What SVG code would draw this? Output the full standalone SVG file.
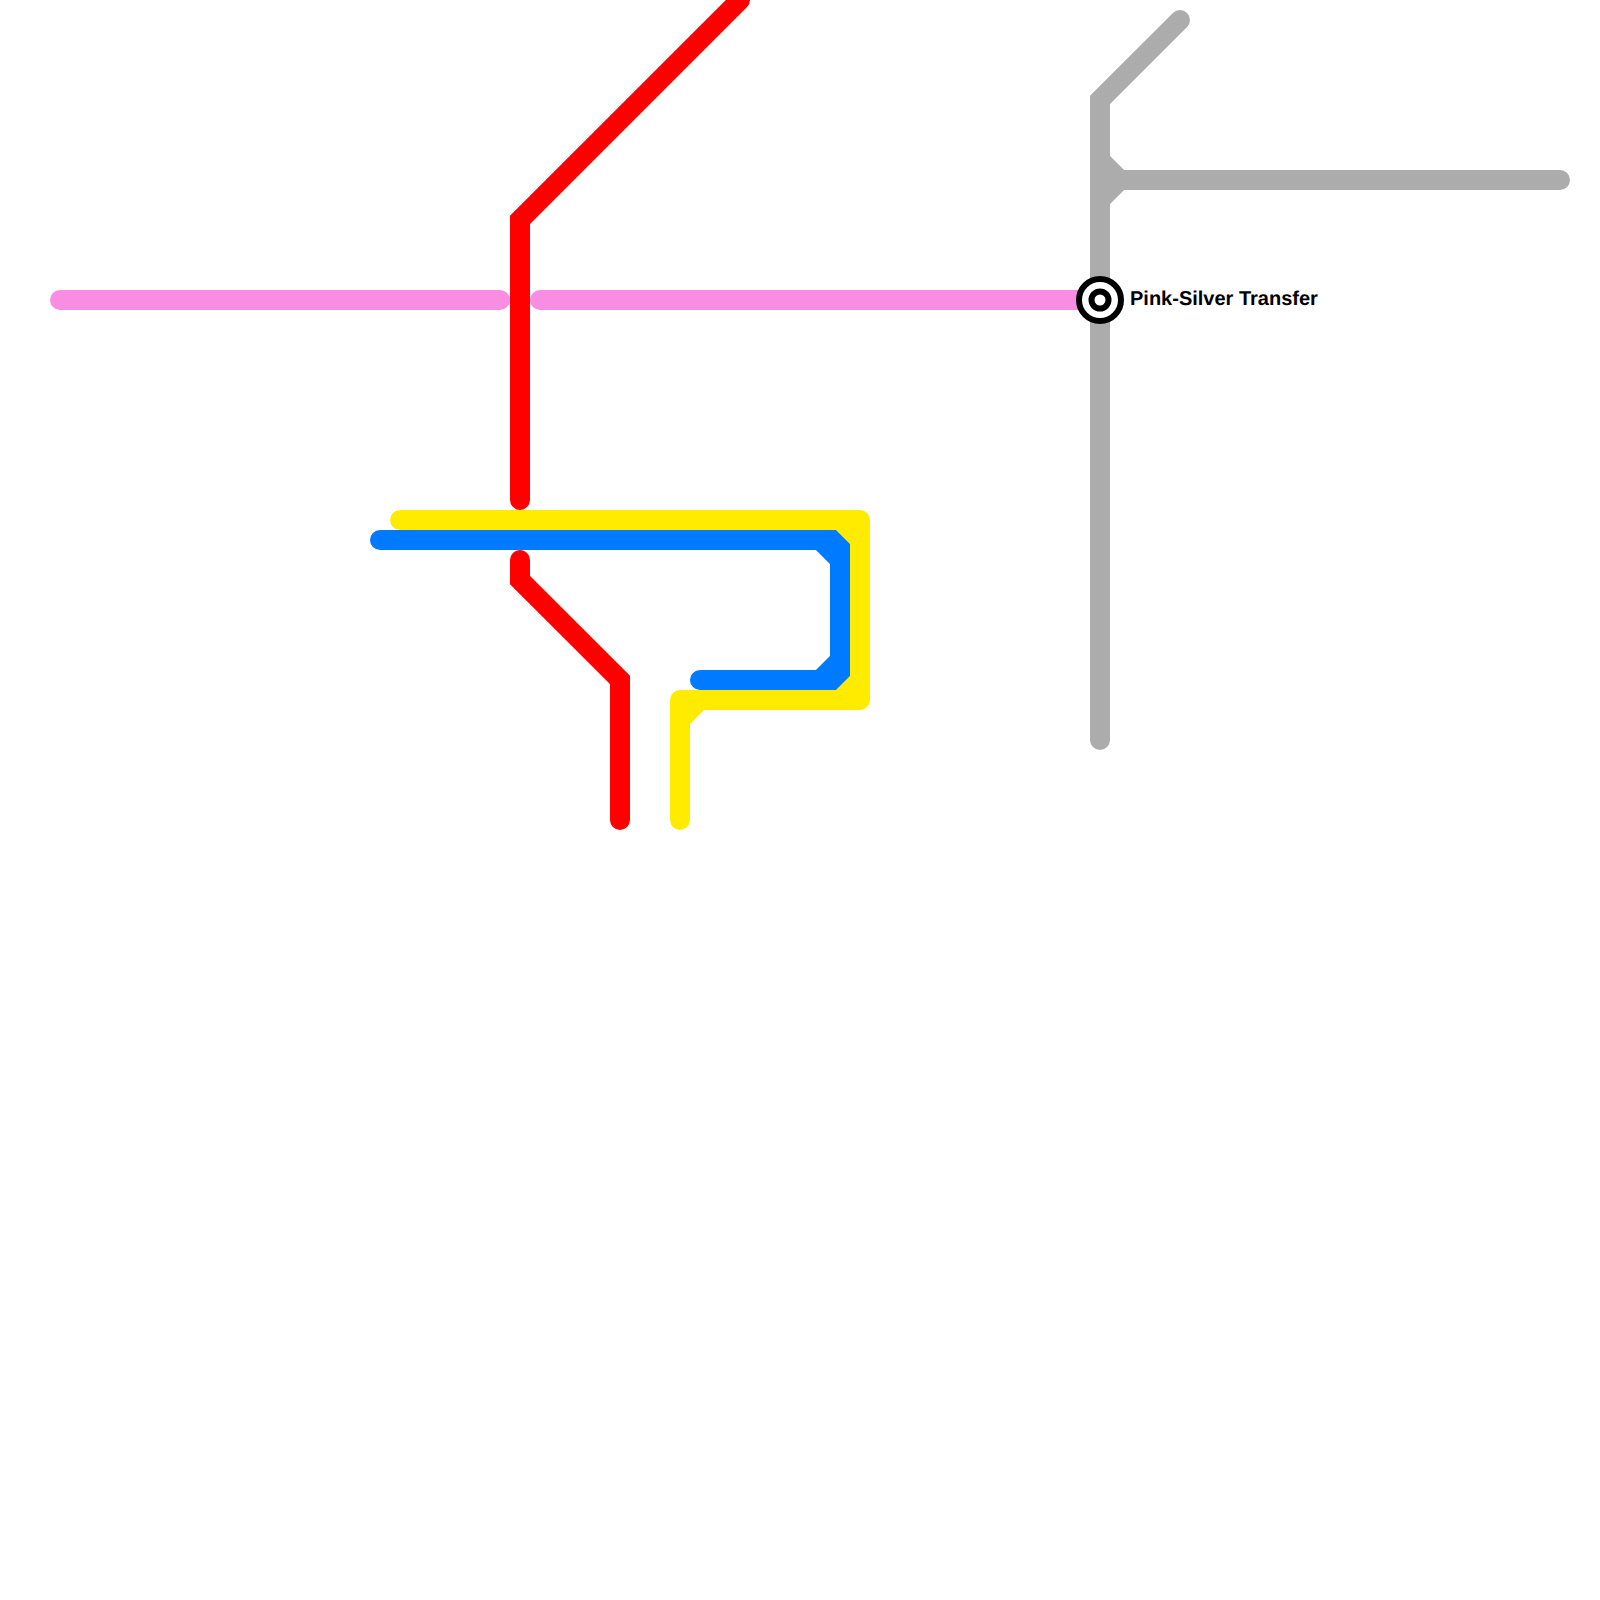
<svg xmlns="http://www.w3.org/2000/svg" width="1600" height="1600" viewBox="0 0 1600 1600">
<style>
.line{fill:none;stroke-width:20;stroke-linecap:round;stroke-linejoin:miter}
.pink{stroke:#f98de4}.silver{stroke:#acacac}.blue{stroke:#007bff}.yellow{stroke:#ffeb00}.red{stroke:#ff0000}
.ring{fill:#fff;stroke:#000;stroke-width:6}
.label{font-family:"Liberation Sans",Arial,sans-serif;font-weight:700;font-size:20px;fill:#000;text-rendering:geometricPrecision}
</style>
<rect width="1600" height="1600" fill="#fff"/>
<g id="connectors">
<path id="line-pink" class="line pink" d="M60 300H500M540 300H1100"/>
<path id="line-silver" class="line silver" d="M1180 20L1100 100V740M1100 160L1120 180L1100 200M1120 180H1560"/>
<path id="line-blue" class="line blue" d="M380 540H840V680H700M820 540L840 560M840 660L820 680"/>
<path id="line-yellow" class="line yellow" d="M400 520H860M860 520V700M860 700H680M680 700V820M840 520L860 540M860 680L840 700M680 720L700 700"/>
<path id="line-red" class="line red" d="M740 0L520 220V500M520 560V580L620 680V820"/>
</g>
<g id="station-pink-silver-transfer">
<circle class="ring" cx="1100" cy="300" r="21"/>
<circle class="ring" cx="1100" cy="300" r="8.5"/>
<text class="label" x="1130" y="305">Pink-Silver Transfer</text>
</g>
</svg>
